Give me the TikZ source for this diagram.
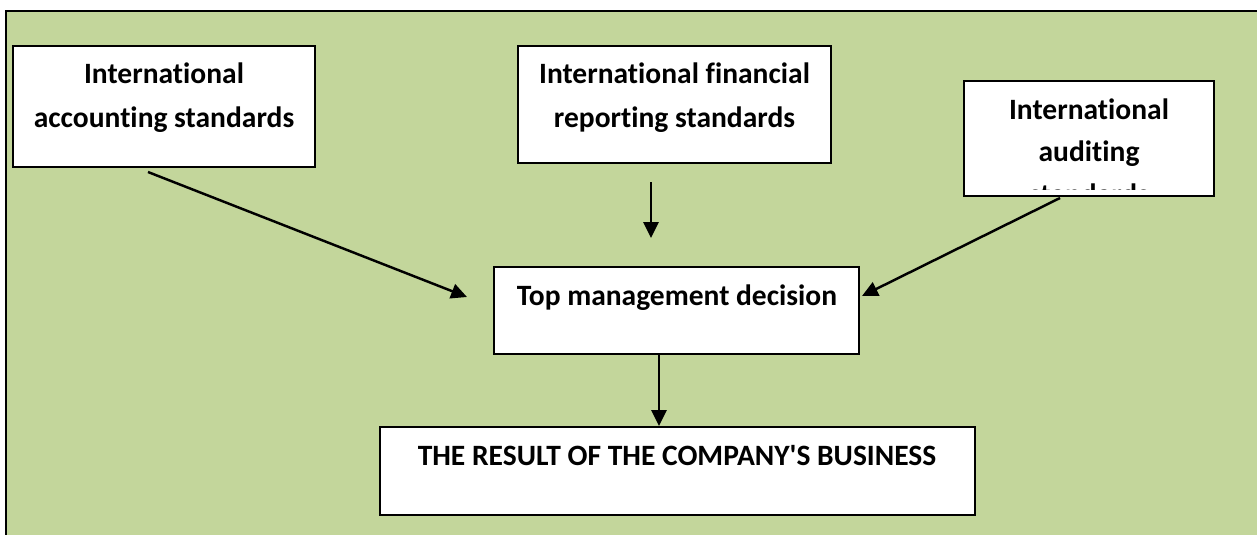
\documentclass[tikz,border=0pt]{standalone}
\usepackage{fontspec}
\setmainfont{Carlito}[Ligatures=NoCommon]
\usetikzlibrary{positioning,arrows.meta}
\definecolor{panelgreen}{HTML}{C3D69B}

\begin{document}
\begin{tikzpicture}[
  x=0.02cm, y=-0.02cm,
  box/.style={draw, fill=white, line width=1.1pt, inner sep=0pt},
  txt/.style={font=\bfseries\fontsize{16.8}{25}\selectfont, align=center, inner sep=0pt},
  arrow/.style={-{Triangle[length=9pt,width=8.5pt]}, line width=1.4pt}
]
\clip (0,0) rectangle (1257,534);
\useasboundingbox (0,0) rectangle (1257,534);
\draw[fill=panelgreen, line width=1.4pt] (6,11) rectangle (1280,560);

\node[box, minimum width=302*0.02cm, minimum height=121*0.02cm](ias) at (164,106.5){};
\node[txt, anchor=north](iastxt) at (164,62.5){International\\accounting standards};

\node[box, minimum width=313*0.02cm, minimum height=117*0.02cm](ifrs) at (674.5,104.5){};
\node[txt, anchor=north](ifrstxt) at (674.5,62.5){International financial\\reporting standards};

\node[box, minimum width=250*0.02cm, minimum height=115*0.02cm](isa) at (1089,138.5){};
\begin{scope}
  \clip (966,83) rectangle (1212,189);
  \node[txt, anchor=north, font=\bfseries\fontsize{16.8}{24.2}\selectfont](isatxt) at (1089,98){International\\auditing\\standards};
\end{scope}

\node[box, minimum width=365*0.02cm, minimum height=87*0.02cm](tmd) at (676.5,310.5){};
\node[txt, anchor=base](tmdtxt) at (677,305){Top management decision};

\node[box, minimum width=595*0.02cm, minimum height=88*0.02cm](res) at (677.5,471){};
\node[txt, anchor=base](restxt) at (677,465){THE RESULT OF THE COMPANY\textquotesingle S BUSINESS};

% free ends of the connectors
\coordinate (iasout) at (148,172);
\coordinate (tmdin1) at (467,297);
\coordinate (ifrsout) at (651,182);
\coordinate (tmdin2) at (651,238);
\coordinate (isaout) at (1060,198);
\coordinate (tmdin3) at (862,296);
\coordinate (tmdout) at (659,354);
\coordinate (resin) at (659,426);

\draw[arrow] (iasout)--(tmdin1);
\draw[arrow] (ifrsout)--(tmdin2);
\draw[arrow] (isaout)--(tmdin3);
\draw[arrow] (tmdout)--(resin);
\end{tikzpicture}
\end{document}
